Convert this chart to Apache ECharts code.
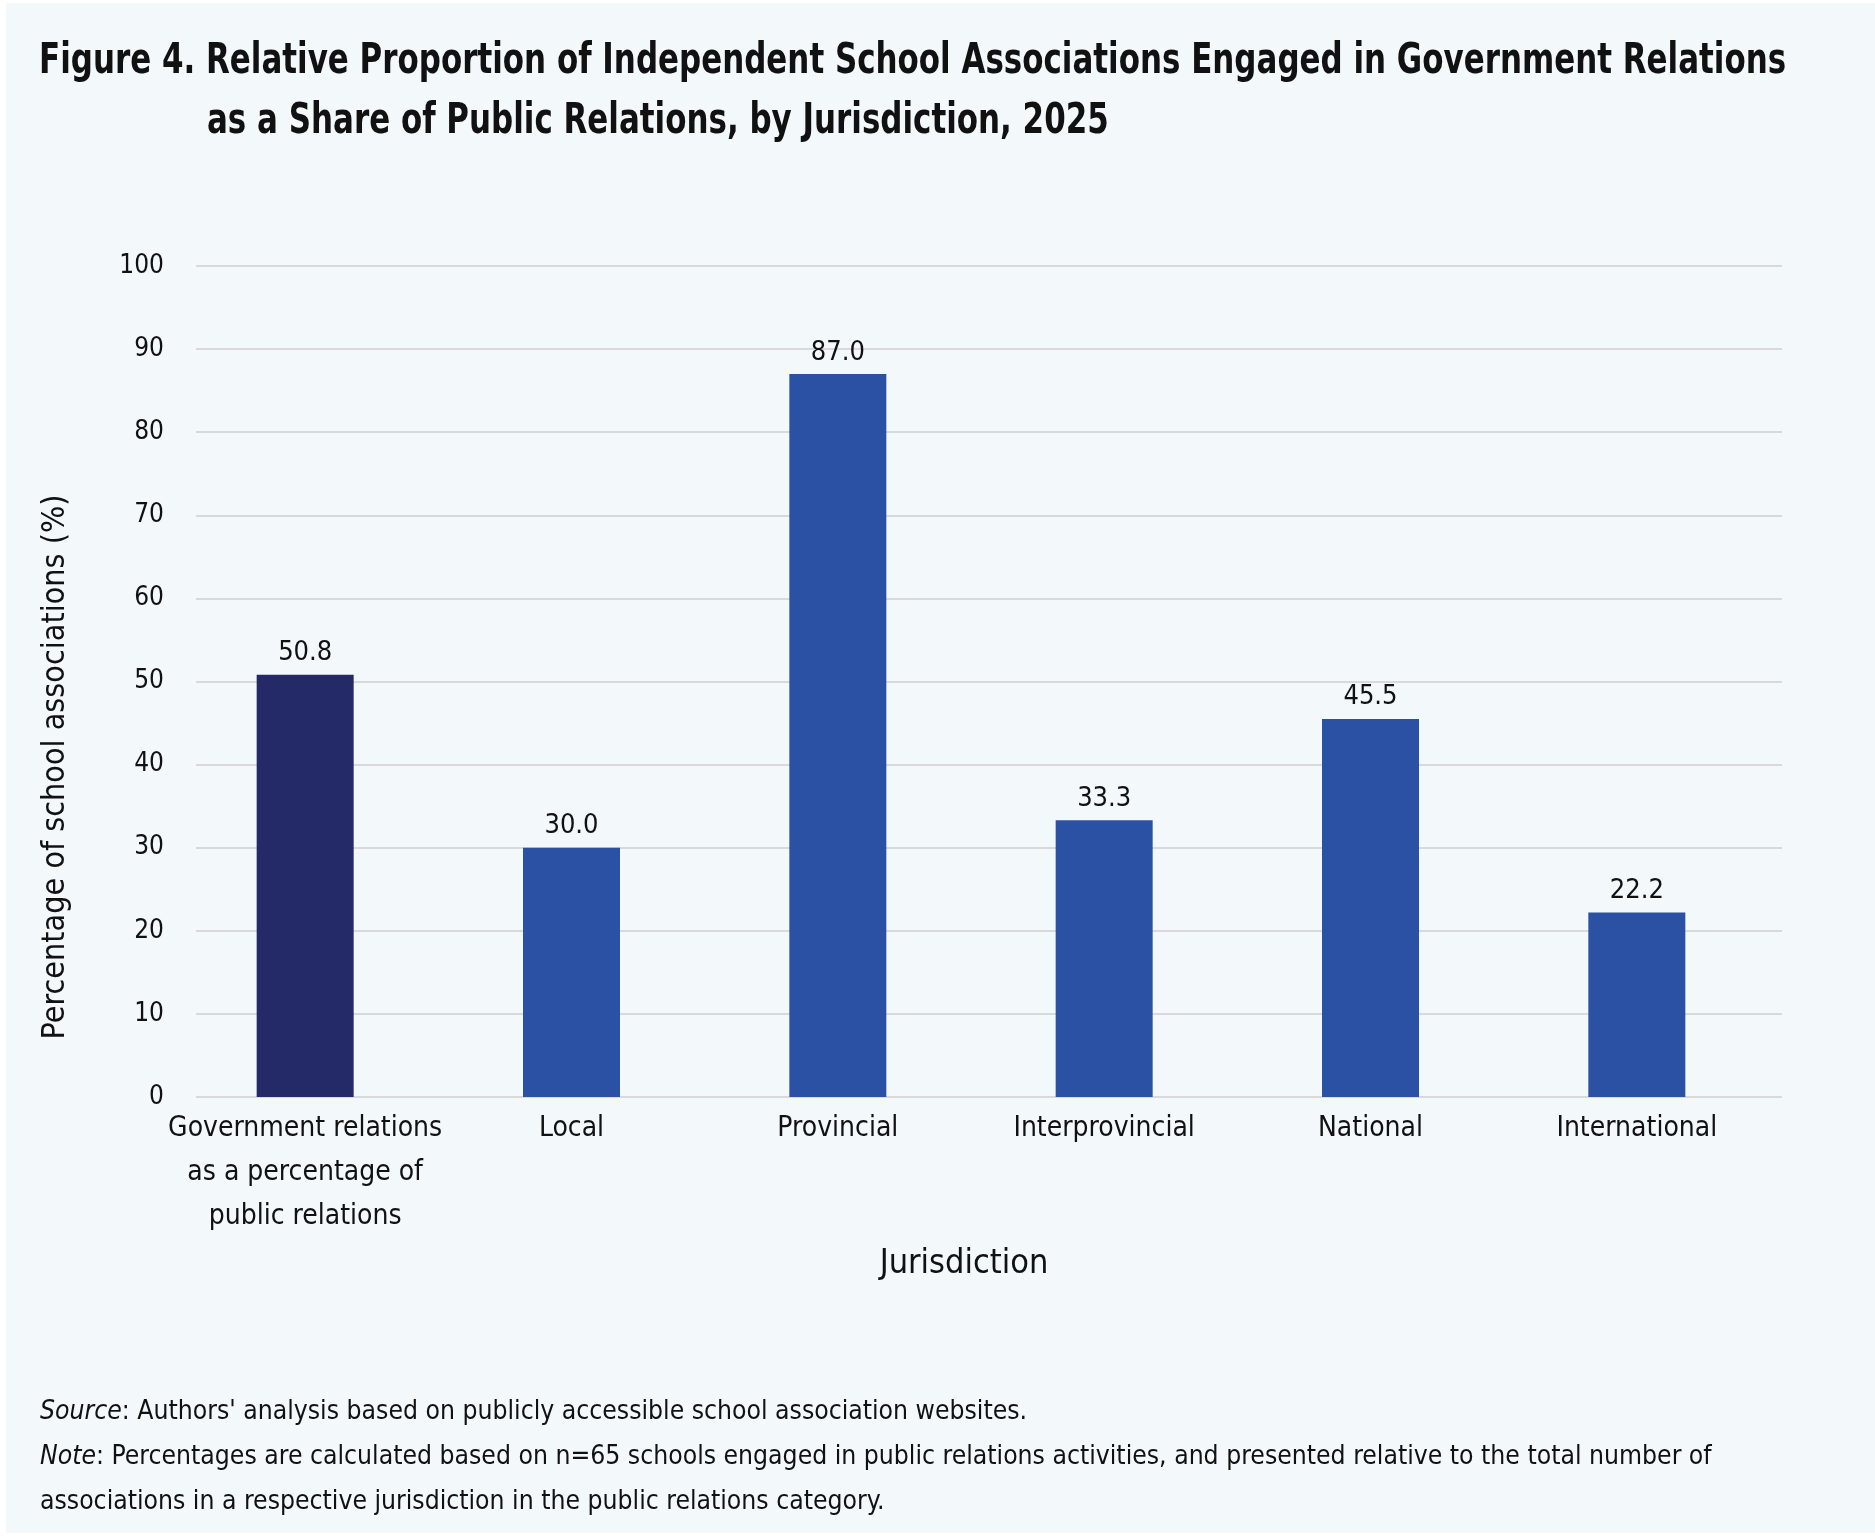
<!DOCTYPE html>
<html>
<head>
<meta charset="utf-8">
<script src="https://cdn.jsdelivr.net/npm/echarts@6/dist/echarts.min.js"></script>
<style>
html,body{margin:0;padding:0;background:#ffffff;}
#chart{position:absolute;left:0;top:0;width:1875px;height:1538px;}
</style>
</head>
<body>
<div id="chart"></div>
<script>
// ---- data ----
const categories = ['Government relations\nas a percentage of\npublic relations', 'Local', 'Provincial', 'Interprovincial', 'National', 'International'];
const values = [50.8, 30.0, 87.0, 33.3, 45.5, 22.2];
const barColors = ['#242A68', '#2A51A3', '#2A51A3', '#2A51A3', '#2A51A3', '#2A51A3'];
const yTicks = { min: 0, max: 100, interval: 10 };
const titleLines = ['Figure 4. Relative Proportion of Independent School Associations Engaged in Government Relations', 'as a Share of Public Relations, by Jurisdiction, 2025'];
const yTitle = 'Percentage of school associations (%)';
const xTitle = 'Jurisdiction';
const sourceText = "Authors' analysis based on publicly accessible school association websites.";
const noteText1 = 'Percentages are calculated based on n=65 schools engaged in public relations activities, and presented relative to the total number of';
const noteText2 = 'associations in a respective jurisdiction in the public relations category.';

// ---- font detection ----
function hasFont(f) {
  const c = document.createElement('canvas').getContext('2d');
  const s = 'abcdefghijklmnopqrstuvwxyz ABCDEFGHIJKLMNOP 0123456789';
  let res = false;
  ['monospace', 'serif'].forEach(function (b) {
    c.font = '40px ' + b; const w1 = c.measureText(s).width;
    c.font = '40px "' + f + '", ' + b; const w2 = c.measureText(s).width;
    if (Math.abs(w1 - w2) > 0.5) res = true;
  });
  return res;
}
const candidates = ['DejaVu Sans Condensed', 'Liberation Sans Narrow', 'Roboto Condensed'];
let FONT = 'Roboto';
for (const f of candidates) { if (hasFont(f)) { FONT = f; break; } }
const FF = '"' + FONT + '", "Liberation Sans", sans-serif';

const chart = echarts.init(document.getElementById('chart'), null, { renderer: 'canvas' });
const txt = '#111111';

const option = {
  backgroundColor: 'transparent',
  animation: false,
  title: [
    {
      text: '{i|Source}: ' + sourceText + '\n{i|Note}: ' + noteText1 + '\n' + noteText2,
      left: 35, top: 1385,
      textStyle: {
        fontFamily: FF, fontSize: 26.3, color: txt, lineHeight: 45, fontWeight: 'normal',
        rich: { i: { fontFamily: FF, fontSize: 26.3, fontStyle: 'italic', color: txt, lineHeight: 45 } }
      }
    }
  ],
  graphic: [
    { type: 'rect', z: -10, silent: true, shape: { x: 6, y: 3, width: 1869, height: 1530 }, style: { fill: '#F3F8FB' } },
    {
      type: 'text', x: 39, y: 62, scaleY: 1.25,
      style: { text: titleLines[0], fontFamily: FF, fontWeight: 'bold', fontSize: 34.4, fill: txt, textAlign: 'left', textVerticalAlign: 'middle' }
    },
    {
      type: 'text', x: 207, y: 122, scaleY: 1.25,
      style: { text: titleLines[1], fontFamily: FF, fontWeight: 'bold', fontSize: 34.4, fill: txt, textAlign: 'left', textVerticalAlign: 'middle' }
    },
    {
      type: 'text', x: 56, y: 767, rotation: Math.PI / 2,
      style: { text: yTitle, fontFamily: FF, fontSize: 32, fill: txt, textAlign: 'center', textVerticalAlign: 'middle' }
    },
    {
      type: 'text', x: 964, y: 1264,
      style: { text: xTitle, fontFamily: FF, fontSize: 34, fill: txt, textAlign: 'center', textVerticalAlign: 'middle' }
    }
  ],
  grid: [
    { left: 196, right: 93, top: 266, bottom: 441, containLabel: false },
    { left: 172, right: 105, top: 266, bottom: 441, containLabel: false }
  ],
  xAxis: [
    { gridIndex: 0, type: 'value', show: false, min: 0, max: 1 },
    {
      gridIndex: 1, type: 'category', data: categories,
      axisLine: { show: false }, axisTick: { show: false },
      axisLabel: { fontFamily: FF, fontSize: 28, color: txt, lineHeight: 44, margin: 10, interval: 0 }
    }
  ],
  yAxis: [
    {
      gridIndex: 0, type: 'value', min: yTicks.min, max: yTicks.max, interval: yTicks.interval,
      axisLine: { show: false }, axisTick: { show: false },
      axisLabel: { fontFamily: FF, fontSize: 26, color: txt, margin: 32 },
      splitLine: { show: true, lineStyle: { color: '#D9D9D9', width: 2 } }
    },
    { gridIndex: 1, type: 'value', min: yTicks.min, max: yTicks.max, show: false, splitLine: { show: false } }
  ],
  series: [{
    type: 'bar', xAxisIndex: 1, yAxisIndex: 1, barWidth: 97,
    data: values.map(function (v, i) { return { value: v, itemStyle: { color: barColors[i] } }; }),
    label: {
      show: true, position: 'top', distance: 8,
      fontFamily: FF, fontSize: 27, color: txt,
      formatter: function (p) { return p.value.toFixed(1); }
    }
  }]
};
chart.setOption(option);
</script>
</body>
</html>
